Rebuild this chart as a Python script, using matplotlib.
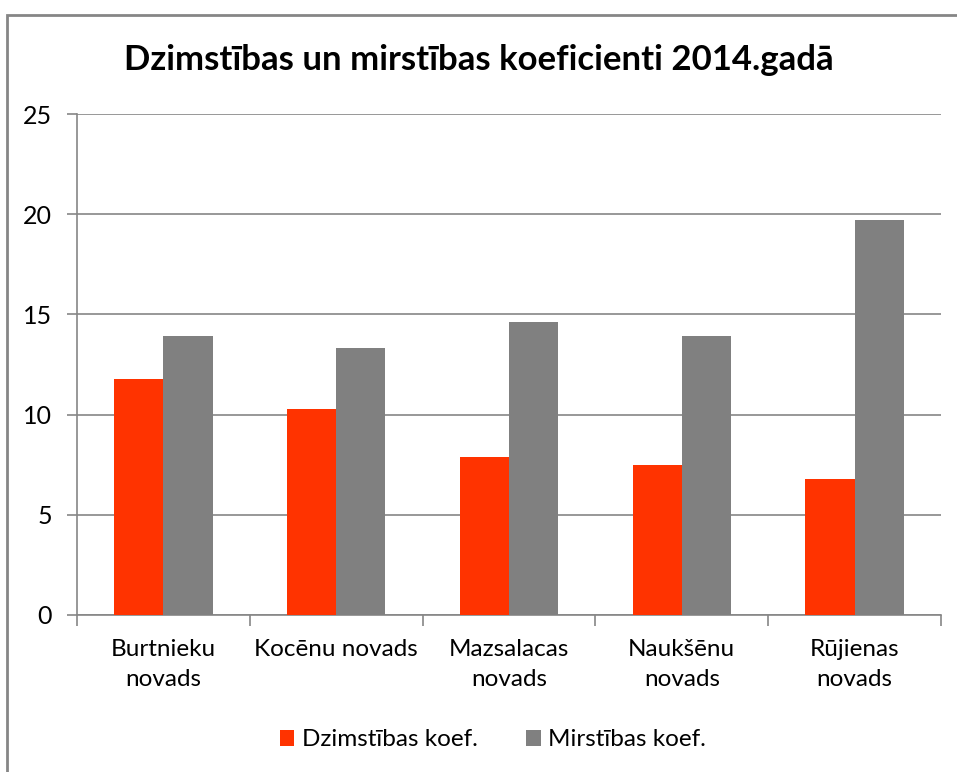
import numpy as np
import matplotlib.pyplot as plt
from matplotlib.patches import Rectangle

# dati
novadi = ['Burtnieku\nnovads', 'Kocēnu novads', 'Mazsalacas\nnovads',
          'Naukšēnu\nnovads', 'Rūjienas\nnovads']
dzimstiba = [11.8, 10.3, 7.9, 7.5, 6.8]
mirstiba = [13.9, 13.3, 14.6, 13.9, 19.7]
y_ticks = [0, 5, 10, 15, 20, 25]

plt.rcParams['font.family'] = ['Lato', 'DejaVu Sans']

fig = plt.figure(figsize=(9.57, 7.72), dpi=100)
ax = fig.add_axes([77 / 957, 1 - 615 / 772, (941 - 77) / 957, (615 - 114) / 772])

# ramis ap diagrammu
fig.patches.append(Rectangle((7 / 957, -0.05), 1.2, 1 - 15 / 772 + 0.05,
                             transform=fig.transFigure, fill=False,
                             edgecolor='#868686', linewidth=2))

x = np.arange(len(novadi))
w = 0.285
ax.bar(x - w / 2, dzimstiba, w, color='#FF3300', label='Dzimstības koef.', zorder=3)
ax.bar(x + w / 2, mirstiba, w, color='#808080', label='Mirstības koef.', zorder=3)

ax.set_xlim(-0.5, len(novadi) - 0.5)
ax.set_ylim(0, 25)
ax.set_yticks(y_ticks)
ax.yaxis.grid(True, color='#868686', linewidth=1.2, zorder=0)
ax.tick_params(axis='y', length=7, width=1.2, color='#868686', labelsize=18, pad=11)

ax.set_xticks(np.arange(-0.5, len(novadi)), minor=False)
ax.set_xticklabels([])
ax.set_xticks(x, minor=True)
ax.set_xticklabels(novadi, minor=True, fontsize=17.5, linespacing=1.55)
ax.tick_params(axis='x', which='major', length=8, width=1.2, color='#868686')
ax.tick_params(axis='x', which='minor', length=0, pad=17)

for s in ['top', 'right']:
    ax.spines[s].set_visible(False)
for s in ['left', 'bottom']:
    ax.spines[s].set_color('#868686')
    ax.spines[s].set_linewidth(1.2)

fig.text(0.5, 1 - 60 / 772, 'Dzimstības un mirstības koeficienti 2014.gadā',
         ha='center', va='center', fontsize=25, fontweight='bold')

fig.legend(loc='center', bbox_to_anchor=(0.515, 1 - 740 / 772), ncol=2,
           frameon=False, fontsize=17.5, handlelength=0.6, handleheight=0.6,
           handletextpad=0.3, columnspacing=2.0)

fig.savefig('out.png', dpi=100)
